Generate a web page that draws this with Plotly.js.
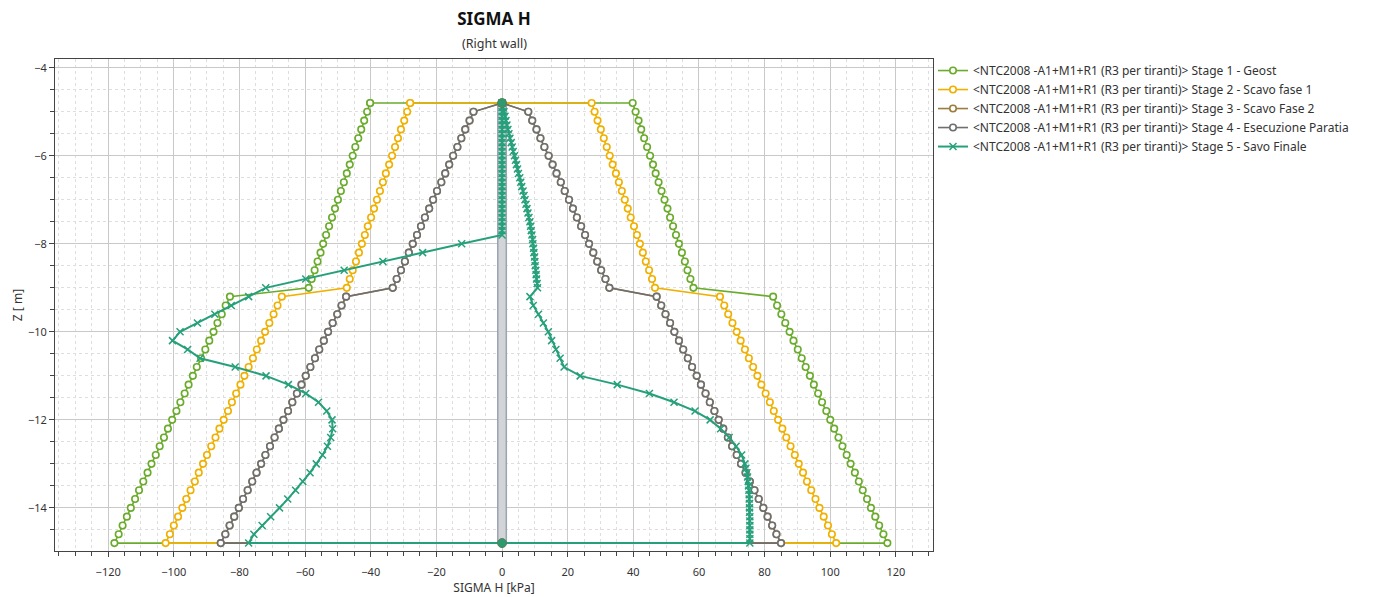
<!DOCTYPE html>
<html>
<head>
<meta charset="utf-8">
<script src="https://cdn.plot.ly/plotly-3.0.1.min.js"></script>
<style>html,body{margin:0;padding:0;background:#fff;}#chart{width:1374px;height:597px;}</style>
</head>
<body>
<div id="chart"></div>
<script>
// ---- data (kPa vs depth m) ----
const SERIES_NAMES = [
  "<NTC2008 -A1+M1+R1 (R3 per tiranti)> Stage 1 - Geost",
  "<NTC2008 -A1+M1+R1 (R3 per tiranti)> Stage 2 - Scavo fase 1",
  "<NTC2008 -A1+M1+R1 (R3 per tiranti)> Stage 3 - Scavo Fase 2",
  "<NTC2008 -A1+M1+R1 (R3 per tiranti)> Stage 4 - Esecuzione Paratia",
  "<NTC2008 -A1+M1+R1 (R3 per tiranti)> Stage 5 - Savo Finale"
];

const Z_GRID = [-4.8,-5.0,-5.2,-5.4,-5.6,-5.8,-6.0,-6.2,-6.4,-6.6,-6.8,-7.0,-7.2,-7.4,-7.6,-7.8,-8.0,-8.2,-8.4,-8.6,-8.8,-9.0,
  -9.2,-9.4,-9.6,-9.8,-10.0,-10.2,-10.4,-10.6,-10.8,-11.0,-11.2,-11.4,-11.6,-11.8,-12.0,-12.2,-12.4,-12.6,-12.8,-13.0,-13.2,-13.4,-13.6,-13.8,-14.0,-14.2,-14.4,-14.6,-14.8];

const S1_LEFT = [-40.2,-41.1,-42.0,-42.9,-43.8,-44.7,-45.5,-46.4,-47.3,-48.2,-49.1,-50.0,-50.9,-51.8,-52.7,-53.6,-54.5,-55.3,-56.2,-57.1,-58.0,-58.9,
  -82.9,-84.2,-85.4,-86.7,-87.9,-89.2,-90.4,-91.7,-93.0,-94.2,-95.5,-96.7,-98.0,-99.2,-100.5,-101.8,-103.0,-104.3,-105.5,-106.8,-108.0,-109.3,-110.6,-111.8,-113.1,-114.3,-115.6,-116.8,-118.1];
const S1_RIGHT = [39.8,40.7,41.6,42.4,43.3,44.2,45.1,46.0,46.8,47.7,48.6,49.5,50.4,51.2,52.1,53.0,53.9,54.8,55.7,56.5,57.4,58.3,
  82.6,83.8,85.1,86.3,87.6,88.8,90.1,91.3,92.5,93.8,95.0,96.3,97.5,98.8,100.0,101.2,102.5,103.7,105.0,106.2,107.5,108.7,109.9,111.2,112.4,113.7,114.9,116.2,117.4];

const S2_LEFT = [-28.0,-28.9,-29.8,-30.8,-31.7,-32.6,-33.5,-34.4,-35.4,-36.3,-37.2,-38.1,-39.0,-39.9,-40.9,-41.8,-42.7,-43.6,-44.5,-45.5,-46.4,-47.3,
  -67.1,-68.4,-69.6,-70.9,-72.2,-73.4,-74.7,-75.9,-77.2,-78.5,-79.7,-81.0,-82.3,-83.5,-84.8,-86.1,-87.3,-88.6,-89.9,-91.1,-92.4,-93.6,-94.9,-96.2,-97.4,-98.7,-100.0,-101.2,-102.5];
const S2_RIGHT = [27.3,28.2,29.1,30.1,31.0,31.9,32.8,33.7,34.7,35.6,36.5,37.4,38.3,39.2,40.2,41.1,42.0,42.9,43.8,44.8,45.7,46.6,
  66.4,67.7,68.9,70.2,71.5,72.7,74.0,75.2,76.5,77.8,79.0,80.3,81.6,82.8,84.1,85.4,86.6,87.9,89.2,90.4,91.7,92.9,94.2,95.5,96.7,98.0,99.3,100.5,101.8];

const S3_LEFT = [0,-8.7,-9.9,-11.2,-12.4,-13.6,-14.9,-16.1,-17.3,-18.5,-19.8,-21.0,-22.2,-23.5,-24.7,-25.9,-27.2,-28.4,-29.6,-30.8,-32.1,-33.3,
  -47.5,-48.9,-50.2,-51.6,-53.0,-54.3,-55.7,-57.0,-58.4,-59.8,-61.1,-62.5,-63.9,-65.2,-66.6,-68.0,-69.3,-70.7,-72.1,-73.4,-74.8,-76.1,-77.5,-78.9,-80.2,-81.6,-83.0,-84.3,-85.7];
const S3_RIGHT = [0,8.0,9.2,10.5,11.7,12.9,14.2,15.4,16.6,17.9,19.1,20.4,21.6,22.8,24.1,25.3,26.5,27.8,29.0,30.2,31.5,32.7,
  47.1,48.5,49.8,51.2,52.5,53.9,55.2,56.6,57.9,59.3,60.6,62.0,63.3,64.7,66.0,67.4,68.8,70.1,71.5,72.8,74.2,75.5,76.9,78.2,79.6,80.9,82.3,83.6,85.0];

const S4_LEFT = [0,-8.7,-9.9,-11.2,-12.4,-13.6,-14.9,-16.1,-17.3,-18.5,-19.8,-21.0,-22.2,-23.5,-24.7,-25.9,-27.2,-28.4,-29.6,-30.8,-32.1,-33.3,
  -47.5,-48.9,-50.2,-51.6,-53.0,-54.3,-55.7,-57.0,-58.4,-59.8,-61.1,-62.5,-63.9,-65.2,-66.6,-68.0,-69.3,-70.7,-72.1,-73.4,-74.8,-76.1,-77.5,-78.9,-80.2,-81.6,-83.0,-84.3,-85.7];
const S4_RIGHT = [0,8.0,9.2,10.5,11.7,12.9,14.2,15.4,16.6,17.9,19.1,20.4,21.6,22.8,24.1,25.3,26.5,27.8,29.0,30.2,31.5,32.7,
  47.1,48.5,49.8,51.2,52.5,53.9,55.2,56.6,57.9,59.3,60.6,62.0,63.3,64.7,66.0,67.4,68.8,70.1,71.5,72.8,74.2,75.5,76.9,78.2,79.6,80.9,82.3,83.6,85.0];

const S5_LEFT_Z = [-4.8,-4.9,-5.0,-5.1,-5.2,-5.3,-5.4,-5.5,-5.6,-5.7,-5.8,-5.9,-6.0,-6.1,-6.2,-6.3,-6.4,-6.5,-6.6,-6.7,-6.8,-6.9,-7.0,-7.1,-7.2,-7.3,-7.4,-7.5,-7.6,-7.7,-7.8,
  -8.0,-8.2,-8.4,-8.6,-8.8,-9.0,-9.2,-9.4,-9.6,-9.8,-10.0,-10.2,-10.4,-10.6,-10.8,-11.0,-11.2,-11.4,-11.6,-11.8,-12.0,-12.2,-12.4,-12.6,-12.8,-13.0,-13.2,-13.4,-13.6,-13.8,-14.0,-14.2,-14.4,-14.6,-14.8];
const S5_LEFT_X = [0,0,0,0,0,0,0,0,0,0,0,0,0,0,0,0,0,0,0,0,0,0,0,0,0,0,0,0,0,0,0,
  -12.3,-24.2,-36.3,-48.1,-59.8,-72.0,-77.2,-82.5,-87.5,-92.8,-98.1,-100.4,-95.8,-92.0,-81.3,-71.9,-65.1,-59.8,-55.9,-53.4,-51.8,-51.6,-52.2,-53.2,-54.7,-56.6,-58.5,-60.7,-62.9,-65.3,-67.8,-70.5,-73.1,-75.6,-77.2];

const S5_RIGHT_Z = [-4.8,-4.9,-5.0,-5.1,-5.2,-5.3,-5.4,-5.5,-5.6,-5.7,-5.8,-5.9,-6.0,-6.1,-6.2,-6.3,-6.4,-6.5,-6.6,-6.7,-6.8,-6.9,-7.0,-7.1,-7.2,-7.3,-7.4,-7.5,-7.6,-7.7,-7.8,-7.9,-8.0,-8.1,-8.2,-8.3,-8.4,-8.5,-8.6,-8.7,-8.8,-8.9,-9.0,
  -9.2,-9.4,-9.6,-9.8,-10.0,-10.2,-10.4,-10.6,-10.8,-11.0,-11.2,-11.4,-11.6,-11.8,-12.0,-12.2,-12.4,-12.6,-12.8,-13.0,
  -13.1,-13.2,-13.3,-13.4,-13.5,-13.6,-13.7,-13.8,-13.9,-14.0,-14.1,-14.2,-14.3,-14.4,-14.5,-14.6,-14.7,-14.8];
const S5_RIGHT_X = [0,0.3,0.6,0.9,1.2,1.5,1.8,2.1,2.4,2.8,3.1,3.4,3.8,4.1,4.4,4.7,5.0,5.4,5.7,6.0,6.4,6.7,7.0,7.3,7.6,7.9,8.2,8.5,8.7,8.9,9.1,9.3,9.4,9.6,9.7,9.9,10.0,10.1,10.3,10.4,10.5,10.7,10.8,
  8.5,9.5,11.1,12.6,14.1,15.1,16.4,17.7,18.9,23.8,35.1,44.9,52.4,58.8,63.4,66.6,69.2,71.3,73.0,74.0,
  74.3,74.6,74.8,75.0,75.1,75.2,75.3,75.3,75.4,75.4,75.4,75.5,75.5,75.5,75.5,75.5,75.5,75.5];

const WALL_Z = [-4.8, -14.8];
const WALL_X = [0, 0];

// ---- styles ----
const COLORS = ["#6aab2c", "#f0b000", "#9c7c3c", "#6f6f6f", "#26a07a"];
const FONT = "Noto Sans, Open Sans, sans-serif";

function loop(left, right, zl, zr) {
  const x = left.concat(right.slice().reverse());
  const y = zl.concat(zr.slice().reverse());
  x.push(left[0]); y.push(zl[0]);
  return {x, y};
}

const stageData = [
  loop(S1_LEFT, S1_RIGHT, Z_GRID, Z_GRID),
  loop(S2_LEFT, S2_RIGHT, Z_GRID, Z_GRID),
  loop(S3_LEFT, S3_RIGHT, Z_GRID, Z_GRID),
  loop(S4_LEFT, S4_RIGHT, Z_GRID, Z_GRID),
  loop(S5_LEFT_X, S5_RIGHT_X, S5_LEFT_Z, S5_RIGHT_Z)
];

const wallHalf = 1.3;
const shapes = [{
  type: "rect", xref: "x", yref: "y", layer: "between",
  x0: WALL_X[0] - wallHalf, x1: WALL_X[0] + wallHalf, y0: WALL_Z[0], y1: WALL_Z[1],
  fillcolor: "#d2d4d8", line: {color: "#9aa4b2", width: 1.5}
}];

const traces = stageData.map((d, i) => {
  const isX = i === 4;
  return {
    type: "scatter", mode: "lines+markers", name: SERIES_NAMES[i],
    x: d.x, y: d.y,
    line: {color: COLORS[i], width: isX ? 2 : 1.6},
    marker: isX
      ? {symbol: "x-thin", size: 7, color: COLORS[i], line: {color: COLORS[i], width: 1.5}}
      : {symbol: "circle", size: 6.5, color: "#ffffff", line: {color: COLORS[i], width: 1.6}},
    cliponaxis: false
  };
});

traces.push({
  type: "scatter", mode: "markers", x: WALL_X, y: WALL_Z, showlegend: false, hoverinfo: "skip",
  marker: {symbol: "circle", size: 9, color: "#2e9a70", line: {color: "#5d7f55", width: 1}}
});

const axisCommon = {
  showline: true, linecolor: "#444", linewidth: 1, mirror: true,
  ticks: "outside", ticklen: 5, tickcolor: "#444",
  showgrid: true, gridcolor: "#c9c9c9", gridwidth: 1,
  zeroline: false,
  tickfont: {family: FONT, size: 11, color: "#333"},
  fixedrange: true
};

const layout = {
  width: 1374, height: 597,
  margin: {l: 55, r: 441, t: 59, b: 46},
  paper_bgcolor: "#fff", plot_bgcolor: "#fff",
  font: {family: FONT, size: 12, color: "#333"},
  title: {
    text: "<b>SIGMA H</b>", font: {family: FONT, size: 17, color: "#111"},
    x: 0.5, xref: "paper", xanchor: "center", y: 1 - 19/597, yref: "container", yanchor: "middle"
  },
  annotations: [{
    text: "(Right wall)", xref: "paper", yref: "paper", x: 0.5, xanchor: "center",
    y: 1 + (59-43)/492, yanchor: "middle", showarrow: false,
    font: {family: FONT, size: 12.5, color: "#333"}
  }],
  xaxis: Object.assign({}, axisCommon, {
    range: [-136.2, 131.3], tick0: 0, dtick: 20, ticklabelstandoff: 6,
    minor: {dtick: 5, tick0: 0, showgrid: true, gridcolor: "#dedede", griddash: "dot", ticks: "outside", ticklen: 4, tickcolor: "#444"},
    title: {text: "SIGMA H [kPa]", font: {family: FONT, size: 12, color: "#333"}, standoff: 2}
  }),
  yaxis: Object.assign({}, axisCommon, {
    range: [-14.98, -3.8], tick0: 0, dtick: 2,
    minor: {dtick: 0.5, tick0: 0, showgrid: true, gridcolor: "#dedede", griddash: "dot", ticks: "outside", ticklen: 4, tickcolor: "#444"},
    title: {text: "Z [ m]", font: {family: FONT, size: 12, color: "#333"}, standoff: 2}
  }),
  legend: {
    x: 1.0, xanchor: "left", y: 1.006, yanchor: "top",
    font: {family: FONT, size: 12, color: "#333"},
    bgcolor: "rgba(255,255,255,0)", itemwidth: 30, tracegroupgap: 0
  },
  shapes: shapes,
  showlegend: true
};

Plotly.newPlot("chart", traces, layout, {displayModeBar: false, staticPlot: true});
</script>
</body>
</html>
